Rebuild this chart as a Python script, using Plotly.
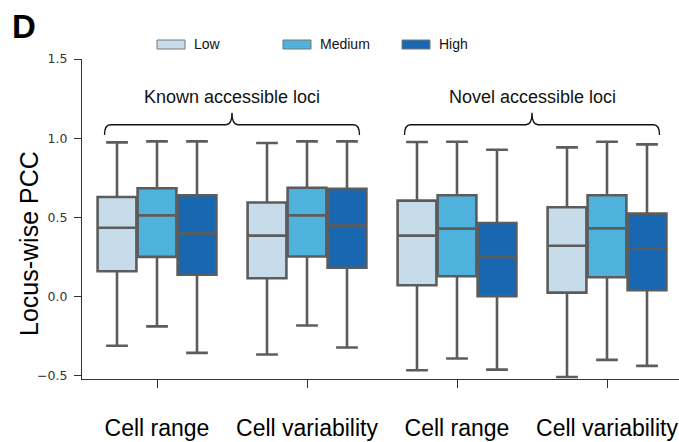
import plotly.graph_objects as go

# ---------------- data ----------------
CATEGORIES = ["Cell range", "Cell variability", "Cell range", "Cell variability"]
CAT_POS = [0, 1, 2, 3]
GROUP_LABELS = ["Known accessible loci", "Novel accessible loci"]
GROUP_SPANS = [(-0.35, 1.35), (1.65, 3.35)]
LEVELS = ["Low", "Medium", "High"]
COLORS = ["#c6dcea", "#4fb2dc", "#1967b1"]

LOW_UPPER = [0.974, 0.970, 0.976, 0.942]
LOW_Q3 = [0.629, 0.594, 0.606, 0.564]
LOW_MED = [0.435, 0.385, 0.385, 0.321]
LOW_Q1 = [0.160, 0.116, 0.072, 0.025]
LOW_LOWER = [-0.310, -0.365, -0.465, -0.507]

MED_UPPER = [0.980, 0.980, 0.978, 0.978]
MED_Q3 = [0.684, 0.687, 0.640, 0.640]
MED_MED = [0.513, 0.513, 0.429, 0.431]
MED_Q1 = [0.251, 0.253, 0.129, 0.122]
MED_LOWER = [-0.188, -0.182, -0.391, -0.399]

HIGH_UPPER = [0.980, 0.980, 0.927, 0.961]
HIGH_Q3 = [0.640, 0.680, 0.465, 0.524]
HIGH_MED = [0.399, 0.448, 0.251, 0.302]
HIGH_Q1 = [0.139, 0.182, 0.002, 0.040]
HIGH_LOWER = [-0.355, -0.321, -0.461, -0.437]

Y_TICKS = [-0.5, 0.0, 0.5, 1.0, 1.5]
Y_TICKTEXT = ["\u22120.5", "0.0", "0.5", "1.0", "1.5"]

STATS = [
    (LOW_LOWER, LOW_Q1, LOW_MED, LOW_Q3, LOW_UPPER),
    (MED_LOWER, MED_Q1, MED_MED, MED_Q3, MED_UPPER),
    (HIGH_LOWER, HIGH_Q1, HIGH_MED, HIGH_Q3, HIGH_UPPER),
]

# ---------------- figure ----------------
W, H = 679, 442
ML, MR, MT, MB = 82, 0, 59, 63
EDGE = "#5c5c5c"
SANS = "Liberation Sans, Arial, sans-serif"

fig = go.Figure()
for name, color, (lo, q1, med, q3, up) in zip(LEVELS, COLORS, STATS):
    fig.add_trace(go.Box(
        x=CAT_POS, lowerfence=lo, q1=q1, median=med, q3=q3, upperfence=up,
        name=name, fillcolor=color, line=dict(color=EDGE, width=2.6),
        whiskerwidth=0.56, showlegend=False, boxpoints=False,
    ))

# braces and group labels
BR_BASE, BR_LINE, BR_TIP, TXT_Y = 1.02, 1.085, 1.16, 1.262
r = 0.04
for (x0, x1), label in zip(GROUP_SPANS, GROUP_LABELS):
    xc = (x0 + x1) / 2
    path = (f"M {x0},{BR_BASE} Q {x0},{BR_LINE} {x0 + r},{BR_LINE} "
            f"L {xc - r},{BR_LINE} Q {xc},{BR_LINE} {xc},{BR_TIP} "
            f"Q {xc},{BR_LINE} {xc + r},{BR_LINE} "
            f"L {x1 - r},{BR_LINE} Q {x1},{BR_LINE} {x1},{BR_BASE}")
    fig.add_shape(type="path", path=path, xref="x", yref="y",
                  line=dict(color="#111111", width=1.3))
    fig.add_annotation(x=xc, y=TXT_Y, xref="x", yref="y", text=label,
                       showarrow=False, font=dict(family=SANS, size=18, color="#111111"))

# custom legend (wide swatches)
pw = W - ML - MR
ph = H - MT - MB
def px_x(px):
    return (px - ML) / pw
def px_y(py):
    return (H - MB - py) / ph

legend_x = [157, 283, 402]
for lx, name, color in zip(legend_x, LEVELS, COLORS):
    fig.add_shape(type="rect", xref="paper", yref="paper",
                  x0=px_x(lx), x1=px_x(lx + 28), y0=px_y(49), y1=px_y(40),
                  fillcolor=color, line=dict(color="#777777", width=1))
    fig.add_annotation(xref="paper", yref="paper", x=px_x(lx + 35), y=px_y(44.5),
                       text=name, showarrow=False, xanchor="left", yanchor="middle",
                       font=dict(family=SANS, size=14, color="#111111"))

# panel letter
fig.add_annotation(xref="paper", yref="paper", x=px_x(10), y=px_y(26),
                   text="<b>D</b>", showarrow=False, xanchor="left", yanchor="middle",
                   font=dict(family=SANS, size=33, color="#000000"))

# y title
fig.add_annotation(xref="paper", yref="paper", x=px_x(29), y=px_y(244),
                   text="Locus-wise PCC", showarrow=False, textangle=-90,
                   xanchor="center", yanchor="middle",
                   font=dict(family=SANS, size=25, color="#000000"))

fig.update_layout(
    width=W, height=H,
    margin=dict(l=ML, r=MR, t=MT, b=MB, autoexpand=False),
    paper_bgcolor="white", plot_bgcolor="white",
    boxmode="group", boxgap=0.2, boxgroupgap=0.03,
    showlegend=False,
    xaxis=dict(
        range=[-0.5, 3.48], tickmode="array", tickvals=CAT_POS, ticktext=CATEGORIES,
        showgrid=False, zeroline=False, showline=True, linecolor="#333333", linewidth=1.2,
        ticks="outside", ticklen=8, tickcolor="#333333", tickwidth=1,
        tickfont=dict(family=SANS, size=23, color="#000000"),
        ticklabelstandoff=20, automargin=False, ticklabeloverflow="allow",
    ),
    yaxis=dict(
        range=[-0.52, 1.5], tickmode="array", tickvals=Y_TICKS, ticktext=Y_TICKTEXT,
        showgrid=False, zeroline=False, showline=True, linecolor="#333333", linewidth=1.2,
        ticks="outside", ticklen=7, tickcolor="#333333", tickwidth=1,
        tickfont=dict(family="DejaVu Sans, sans-serif", size=12.5, color="#333333"),
        ticklabelstandoff=4, automargin=False,
    ),
)

fig.write_html(
    "out.html",
    config={"displayModeBar": False},
    post_script="document.body.style.margin='0';document.body.style.overflow='hidden';",
)
